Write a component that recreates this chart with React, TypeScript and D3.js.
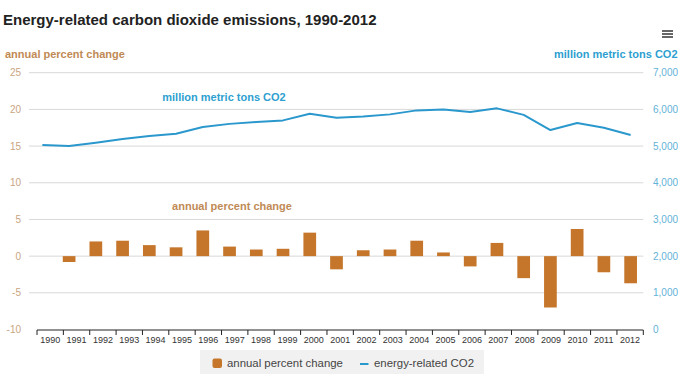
import React from "react";
import * as d3 from "d3";

const years = ["1990","1991","1992","1993","1994","1995","1996","1997","1998","1999","2000","2001","2002","2003","2004","2005","2006","2007","2008","2009","2010","2011","2012"];
const pctChange: (number | null)[] = [null,-0.8,2.0,2.1,1.5,1.2,3.5,1.3,0.9,1.0,3.2,-1.8,0.8,0.9,2.1,0.5,-1.4,1.8,-3.0,-7.0,3.7,-2.2,-3.7];
const co2 = [5030,5000,5090,5190,5275,5336,5518,5605,5655,5700,5880,5775,5805,5864,5973,6000,5927,6028,5850,5436,5627,5500,5300];
const leftTicks = [-10,-5,0,5,10,15,20,25];
const rightTicks = [0,1000,2000,3000,4000,5000,6000,7000];

const W = 678, H = 381;
const FONT = "Arial, 'Liberation Sans', sans-serif";
const BAR = "#c5762b";
const LINE = "#2b98cd";

export default function App() {
  const yL = d3.scaleLinear().domain([-10, 25]).range([329.5, 72.7]);
  const yR = d3.scaleLinear().domain([0, 7000]).range([329.5, 72.7]);
  const xData = d3.scalePoint<string>().domain(years).range([29, 644]).padding(0.5);
  const step = xData.step();
  const barW = step * 0.475;
  const xAxis = d3.scaleBand<string>().domain(years).range([37, 643.3]);

  const line = d3.line<number>()
    .x((_, i) => xData(years[i]) as number)
    .y((d) => yR(d));

  const fmt = d3.format(",");

  return (
    <div style={{ position: "fixed", left: 0, top: 0 }}>
      <svg width={W} height={H} style={{ display: "block", fontFamily: FONT }}>
        <rect width={W} height={H} fill="#fff" />
        <text x={3} y={25} fontSize={15} fontWeight="bold" fill="#222">Energy-related carbon dioxide emissions, 1990-2012</text>
        {/* menu icon */}
        {[31, 34, 37].map((y) => (
          <line key={y} x1={662} x2={673} y1={y} y2={y} stroke="#666" strokeWidth={2} />
        ))}
        <text x={5} y={58} fontSize={11} fontWeight="bold" fill="#c08a55">annual percent change</text>
        <text x={677.5} y={58} fontSize={11} fontWeight="bold" fill="#2e9fd0" textAnchor="end">million metric tons CO2</text>

        {/* gridlines */}
        {leftTicks.filter((t) => t > -10).map((t) => (
          <line key={t} x1={29} x2={643.3} y1={yL(t)} y2={yL(t)} stroke="#d8d8d8" strokeWidth={1} />
        ))}
        {/* left labels */}
        {leftTicks.map((t) => (
          <text key={t} x={21} y={yL(t) + 3.5} fontSize={10} fill="#c9a582" textAnchor="end">{t}</text>
        ))}
        {/* right labels */}
        {rightTicks.map((t) => (
          <text key={t} x={653} y={yR(t) + 3.5} fontSize={10} fill="#63b2d8">{fmt(t)}</text>
        ))}

        {/* bars */}
        {pctChange.map((v, i) => v === null ? null : (
          <rect key={years[i]}
            x={(xData(years[i]) as number) - barW / 2}
            y={yL(Math.max(0, v))}
            width={barW}
            height={Math.abs(yL(v) - yL(0))}
            fill={BAR} />
        ))}

        {/* line */}
        <path d={line(co2) as string} fill="none" stroke={LINE} strokeWidth={2} strokeLinejoin="round" />

        {/* in-plot labels */}
        <text x={224} y={100.5} fontSize={11} fontWeight="bold" fill="#2e9fd0" textAnchor="middle">million metric tons CO2</text>
        <text x={232} y={210} fontSize={11} fontWeight="bold" fill="#c08a55" textAnchor="middle">annual percent change</text>

        {/* x axis */}
        <line x1={37} x2={643.3} y1={330} y2={330} stroke="#222" strokeWidth={1} />
        {years.map((y) => (
          <line key={"t" + y} x1={xAxis(y) as number} x2={xAxis(y) as number} y1={330} y2={335} stroke="#222" />
        ))}
        <line x1={643.3} x2={643.3} y1={330} y2={335} stroke="#222" />
        {years.map((y) => (
          <text key={"l" + y} x={(xAxis(y) as number) + xAxis.bandwidth() / 2} y={343} fontSize={9} fill="#333" textAnchor="middle">{y}</text>
        ))}

        {/* legend */}
        <rect x={200} y={350} width={284} height={24} fill="#f1f1f1" />
        <rect x={212.5} y={358.5} width={9.5} height={9.5} rx={2} fill={BAR} />
        <text x={227} y={366.5} fontSize={11.4} fill="#444">annual percent change</text>
        <line x1={360} x2={368.5} y1={364} y2={364} stroke={LINE} strokeWidth={2} />
        <text x={374} y={366.5} fontSize={11.4} fill="#444">energy-related CO2</text>
      </svg>
    </div>
  );
}
